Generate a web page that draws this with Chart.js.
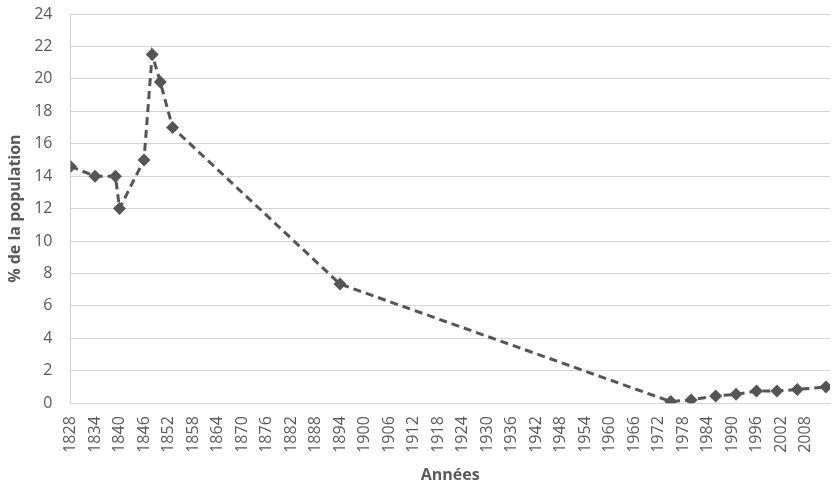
<!DOCTYPE html>
<html>
<head>
<meta charset="utf-8">
<script src="https://cdn.jsdelivr.net/npm/chart.js@4"></script>
<style>
  html, body { margin: 0; padding: 0; background: #fff; }
  #wrap { width: 840px; height: 492px; }
</style>
</head>
<body>
<div id="wrap"><canvas id="chart"></canvas></div>
<script>
// Years of each observation (x) and share of population (y, %)
const years = [1828, 1834, 1839, 1840, 1846, 1848, 1850, 1853, 1894, 1975, 1980, 1986, 1991, 1996, 2001, 2006, 2013];
const shares = [14.6, 14.0, 14.0, 12.0, 15.0, 21.5, 19.8, 17.0, 7.35, 0.1, 0.2, 0.45, 0.55, 0.75, 0.75, 0.85, 1.0];

// Tick labels shown under the x axis
const xTicks = [];
for (let y = 1828; y <= 2008; y += 6) xTicks.push(y);
const yTicks = [0, 2, 4, 6, 8, 10, 12, 14, 16, 18, 20, 22, 24];

const textColor = '#595959';
const gridColor = '#d4d4d4';
const lineColor = '#555555';

const points = years.map((yr, i) => ({ x: yr, y: shares[i] }));

new Chart(document.getElementById('chart'), {
    type: 'scatter',
    data: {
        datasets: [{
            data: points,
            showLine: true,
            borderColor: lineColor,
            borderWidth: 3,
            borderDash: [8, 5],
            pointStyle: 'rectRot',
            pointRadius: 6.5,
            pointBackgroundColor: lineColor,
            pointBorderColor: lineColor,
            pointBorderWidth: 0
        }]
    },
    options: {
        responsive: true,
        maintainAspectRatio: false,
        animation: false,
        layout: { padding: { left: 6, right: 10, top: 14, bottom: 7 } },
        plugins: {
            legend: { display: false },
            tooltip: { enabled: false }
        },
        scales: {
            x: {
                type: 'linear',
                min: 1828,
                max: 2014,
                afterBuildTicks: (scale) => {
                    scale.ticks = xTicks.map(v => ({ value: v }));
                },
                grid: { display: false, drawTicks: false },
                border: { display: true, color: gridColor, width: 1 },
                ticks: {
                    color: textColor,
                    font: { family: 'Open Sans', size: 16 },
                    minRotation: 90,
                    maxRotation: 90,
                    autoSkip: false,
                    padding: 13,
                    callback: (v) => String(v)
                },
                title: {
                    display: true,
                    text: 'Années',
                    color: textColor,
                    font: { family: 'Open Sans', size: 16, weight: 'bold' },
                    padding: { top: 0, bottom: 0 }
                }
            },
            y: {
                min: 0,
                max: 24,
                afterBuildTicks: (scale) => {
                    scale.ticks = yTicks.map(v => ({ value: v }));
                },
                // let the top label hang above the plot like the original,
                // and pull the axis title closer to the tick labels
                afterFit: (scale) => {
                    scale.paddingTop = 0;
                    scale.paddingBottom = 0;
                    scale.width -= 10;
                },
                grid: { color: gridColor, drawTicks: false, lineWidth: 1 },
                border: { display: true, color: gridColor },
                ticks: {
                    color: textColor,
                    font: { family: 'Open Sans', size: 16 },
                    padding: 18
                },
                title: {
                    display: true,
                    text: '% de la population',
                    color: textColor,
                    font: { family: 'Open Sans', size: 16, weight: 'bold' },
                    padding: { top: 0, bottom: 1 }
                }
            }
        }
    }
});
</script>
</body>
</html>
